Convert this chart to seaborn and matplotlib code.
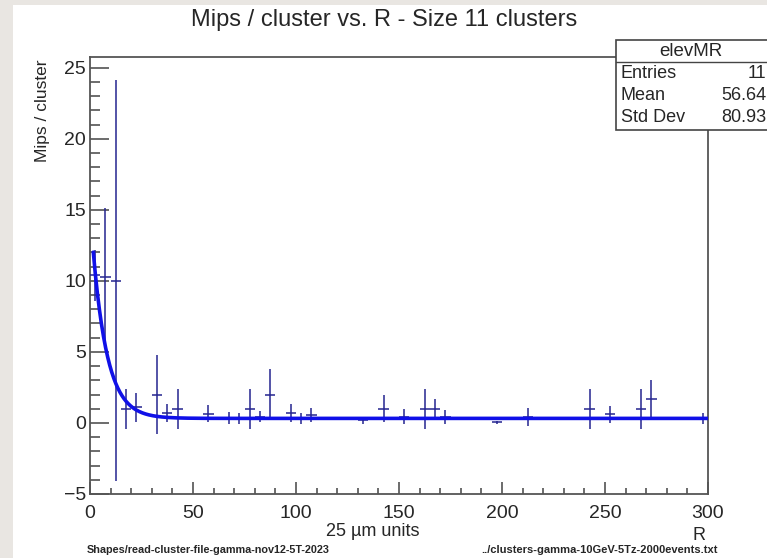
import numpy as np
import pandas as pd
import matplotlib
matplotlib.use("Agg")
import matplotlib.pyplot as plt
from matplotlib.patches import Rectangle
from matplotlib.lines import Line2D
from matplotlib.ticker import MultipleLocator
import seaborn as sns

# ---- data ----
r_centers = [2.5, 7.5, 12.5, 17.5, 22.5, 32.5, 37.5, 42.5, 57.5, 67.5, 72.5, 77.5,
             82.5, 87.5, 97.5, 102.5, 107.5, 132.5, 142.5, 152.5, 162.5, 167.5,
             172.5, 197.5, 212.5, 242.5, 252.5, 267.5, 272.5, 297.5]
mips = [10.4, 10.3, 10.0, 1.0, 1.1, 2.0, 0.7, 1.0, 0.65, 0.35, 0.3, 1.0,
        0.45, 2.0, 0.7, 0.3, 0.55, 0.2, 1.0, 0.45, 1.0, 1.0,
        0.4, 0.05, 0.4, 1.0, 0.6, 1.0, 1.65, 0.3]
mips_err = [1.8, 4.8, 14.1, 1.4, 1.0, 2.8, 0.6, 1.4, 0.6, 0.4, 0.4, 1.4,
            0.4, 1.8, 0.6, 0.4, 0.5, 0.25, 0.95, 0.5, 1.4, 0.7,
            0.5, 0.1, 0.65, 1.4, 0.6, 1.4, 1.4, 0.4]
bin_half_width = 2.5

# exponential fit parameters (A*exp(-R/tau)+c)
fit_A, fit_tau, fit_c = 14.7, 7.0, 0.32
fit_rmin, fit_rmax = 1.6, 300.0

x_ticks = [0, 50, 100, 150, 200, 250, 300]
y_ticks = [-5, 0, 5, 10, 15, 20, 25]

title = "Mips / cluster vs. R - Size 11 clusters"
ylabel = "Mips / cluster"
xlabel = "R"
units_label = "25 \u00b5m units"
left_note = "Shapes/read-cluster-file-gamma-nov12-5T-2023"
right_note = "../clusters-gamma-10GeV-5Tz-2000events.txt"
stats_name = "elevMR"
stats_rows = [("Entries", "11"), ("Mean", "56.64"), ("Std Dev", "80.93")]

# ---- figure ----
sns.set_style("ticks")
plt.rcParams["font.family"] = ["Liberation Sans", "DejaVu Sans"]

W, H = 767, 558
fig = plt.figure(figsize=(W / 100, H / 100), dpi=100)
fig.patch.set_facecolor("#e9e6e2")
# white canvas
fig.add_artist(Rectangle((13 / W, 0), 1 - 13 / W, 1 - 5 / H, transform=fig.transFigure,
                         facecolor="white", edgecolor="none", zorder=0))

def fx(px):
    return px / W

def fy(py):
    return 1 - py / H

ax_l, ax_r, ax_t, ax_b = 90, 708, 57, 494
ax = fig.add_axes([fx(ax_l), fy(ax_b), (ax_r - ax_l) / W, (ax_b - ax_t) / H])
ax.set_facecolor("white")

df = pd.DataFrame({"R": r_centers, "mips": mips, "err": mips_err})
ax.errorbar(df["R"], df["mips"], yerr=df["err"], xerr=bin_half_width, fmt="none",
            ecolor="#25258f", elinewidth=1.1, capsize=0, zorder=3)

r_fit = np.linspace(fit_rmin, fit_rmax, 600)
fit_df = pd.DataFrame({"R": r_fit, "fit": fit_A * np.exp(-r_fit / fit_tau) + fit_c})
sns.lineplot(data=fit_df, x="R", y="fit", ax=ax, color="#1010e8", linewidth=2.6, zorder=4)

ax.set_xlim(0, 300)
ax.set_ylim(-5, 25.75)
ax.set_xticks(x_ticks)
ax.set_yticks(y_ticks)
ax.set_yticklabels(["\u22125" if t == -5 else str(t) for t in y_ticks])
ax.xaxis.set_minor_locator(MultipleLocator(10))
ax.yaxis.set_minor_locator(MultipleLocator(1))
ax.tick_params(axis="x", which="major", direction="in", length=9, width=1.1,
               color="#444444", labelsize=14, pad=8)
ax.tick_params(axis="x", which="minor", direction="in", length=4.5, width=1.1, color="#444444")
ax.tick_params(axis="y", which="major", direction="in", length=14, width=1.1,
               color="#444444", labelsize=14, pad=3)
ax.tick_params(axis="y", which="minor", direction="in", length=7, width=1.1, color="#444444")
for s in ax.spines.values():
    s.set_color("#555555")
    s.set_linewidth(1.3)
    s.set_visible(True)
ax.set_xlabel("")
ax.set_ylabel("")

# texts
fig.text(fx(384), fy(20), title, ha="center", va="center", fontsize=17)
fig.text(fx(42), fy(111), ylabel, ha="center", va="center", rotation=90, fontsize=12.5)
fig.text(fx(373), fy(531), units_label, ha="center", va="center", fontsize=13)
fig.text(fx(706), fy(535), xlabel, ha="right", va="center", fontsize=13)
fig.text(fx(87), fy(550), left_note, ha="left", va="center", fontsize=7.8, fontweight="bold")
fig.text(fx(718), fy(550), right_note, ha="right", va="center", fontsize=8, fontweight="bold")

# stats box
bx0, bx1, by0, by1 = 616, 770, 40, 130
fig.add_artist(Rectangle((fx(bx0), fy(by1)), (bx1 - bx0) / W, (by1 - by0) / H,
                         transform=fig.transFigure, facecolor="white",
                         edgecolor="#444444", linewidth=1.2, zorder=5))
fig.add_artist(Line2D([fx(bx0), fx(bx1)], [fy(62), fy(62)], transform=fig.transFigure,
                      color="#444444", linewidth=1.0, zorder=6))
fig.text(fx(691), fy(51), stats_name, ha="center", va="center", fontsize=13.5, zorder=7)
row_y = [73, 95, 117]
for (lab, val), yy in zip(stats_rows, row_y):
    fig.text(fx(621), fy(yy), lab, ha="left", va="center", fontsize=13, zorder=7)
    fig.text(fx(766), fy(yy), val, ha="right", va="center", fontsize=13, zorder=7)

fig.savefig("out.png", dpi=100, facecolor=fig.get_facecolor())
